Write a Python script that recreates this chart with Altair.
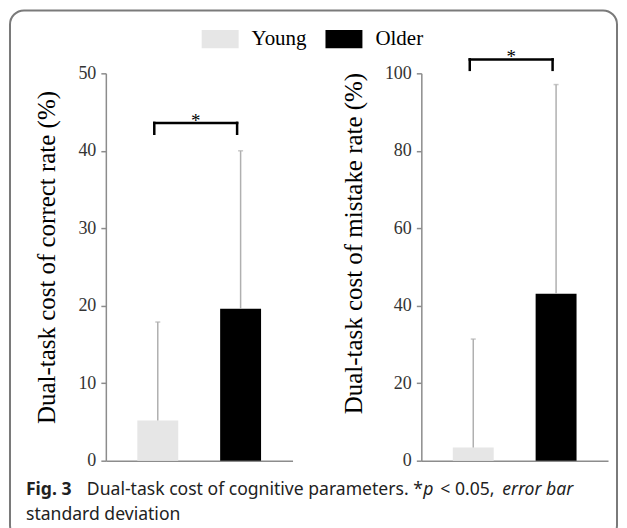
import altair as alt
import pandas as pd

groups = ["Young", "Older"]
bar_colors = ["#e6e6e6", "#000000"]

correct_mean = [5.2, 19.6]
correct_sd = [12.7, 20.4]
mistake_mean = [3.4, 43.1]
mistake_sd = [28.0, 54.0]

correct_ticks = [0, 10, 20, 30, 40, 50]
mistake_ticks = [0, 20, 40, 60, 80, 100]

correct_bracket = [42.2, 43.6]   # [end of legs, top line]
mistake_bracket = [100.9, 103.6]
sig_label = "*"

y_titles = ["Dual-task cost of correct rate (%)", "Dual-task cost of mistake rate (%)"]

caption_fig = "Fig. 3"
caption_main = "Dual-task cost of cognitive parameters. *"
caption_p = "p"
caption_pval = "< 0.05,"
caption_err = "error bar"
caption_line2 = "standard deviation"

SERIF = "Liberation Serif"
SANS = "Noto Sans"
GREY_ERR = "#b0b0b0"
AXIS_GREY = "#8c8c8c"


def panel(mean, sd, dom, ticks, title, bracket, first, title_y):
    df = pd.DataFrame({
        "group": groups,
        "mean": mean,
        "upper": [m + s for m, s in zip(mean, sd)],
    })
    xs = alt.Scale(domain=groups, paddingInner=0.506, paddingOuter=0.38)
    x = alt.X("group:N", scale=xs,
              axis=alt.Axis(title=None, labels=False, ticks=False,
                            domainColor=AXIS_GREY, domainWidth=1.5))
    ys = alt.Scale(domain=dom, nice=False, zero=True)
    yaxis = alt.Axis(values=ticks, title=title, grid=False,
                     labelFont=SERIF, labelFontSize=18,
                     labelColor="#333", titleFont=SERIF,
                     titleFontSize=25, titleFontWeight="normal",
                     titleColor="black", titlePadding=18, titleY=title_y)
    base = alt.Chart(df)
    legend = None
    if first:
        legend = alt.Legend(
            title=None, orient="none", direction="horizontal",
            legendX=96, legendY=-53,
            symbolType="M-1,-0.5H1V0.5H-1Z", symbolSize=1369,
            symbolStrokeWidth=0, symbolOpacity=1,
            labelFont=SERIF, labelFontSize=21, labelColor="black",
            labelOffset=13, columnPadding=18,
        )
    bars = base.mark_bar(opacity=1).encode(
        x=x,
        y=alt.Y("mean:Q", scale=ys, axis=yaxis),
        color=alt.Color("group:N",
                        scale=alt.Scale(domain=groups, range=bar_colors),
                        legend=legend),
    )
    err = base.mark_rule(color=GREY_ERR, strokeWidth=1.5).encode(
        x=alt.X("group:N", scale=xs),
        y=alt.Y("mean:Q", scale=ys, axis=yaxis), y2="upper:Q")
    cap = base.mark_tick(color=GREY_ERR, size=5, thickness=1.5).encode(
        x=alt.X("group:N", scale=xs), y=alt.Y("upper:Q", scale=ys, axis=yaxis))

    bdf = pd.DataFrame({"g1": [groups[0]], "g2": [groups[1]],
                        "top": [bracket[1]], "low": [bracket[0]],
                        "lab": [sig_label]})
    legs = pd.DataFrame({"g": groups, "top": [bracket[1]] * 2,
                         "low": [bracket[0]] * 2})
    top = alt.Chart(bdf).mark_rule(color="black", strokeWidth=2.5,
                                   xOffset=-3.5, x2Offset=-3.5,
                                   strokeCap="square").encode(
        x=alt.X("g1:N", scale=xs), x2="g2:N",
        y=alt.Y("top:Q", scale=ys, axis=yaxis))
    leg = alt.Chart(legs).mark_rule(color="black", strokeWidth=2.5,
                                    xOffset=-3.5, strokeCap="square").encode(
        x=alt.X("g:N", scale=xs), y=alt.Y("low:Q", scale=ys, axis=yaxis), y2="top:Q")
    star = alt.Chart(bdf).mark_text(font=SERIF, fontSize=19, baseline="alphabetic",
                                    dx=38, dy=4, color="black").encode(
        x=alt.X("g1:N", scale=xs), y=alt.Y("top:Q", scale=ys, axis=yaxis),
        text="lab:N")

    layers = [bars, err, cap, top, leg, star]
    if first:
        frame = alt.Chart(pd.DataFrame({"k": [0]})).mark_rect(
            fillOpacity=0, stroke="#7a7a7a", strokeWidth=2, cornerRadius=14
        ).encode(x=alt.value(-96), x2=alt.value(512),
                 y=alt.value(-63), y2=alt.value(467))

        def txt(s, xv, yv, **kw):
            return alt.Chart(pd.DataFrame({"t": [s]})).mark_text(
                font=SANS, fontSize=17.6, align="left", baseline="alphabetic",
                color="#222", **kw).encode(x=alt.value(xv), y=alt.value(yv), text="t:N")

        caps = [
            txt(caption_fig, -80, 422, fontWeight="bold"),
            txt(caption_main, -19, 422),
            txt(caption_p, 318, 422, fontStyle="italic"),
            txt(caption_pval, 335, 422),
            txt(caption_err, 397, 422, fontStyle="italic"),
            txt(caption_line2, -80, 447),
        ]
        layers = layers + [frame] + caps
    return alt.layer(*layers).properties(width=187, height=388)


left = panel(correct_mean, correct_sd, [0, 50], correct_ticks, y_titles[0],
             correct_bracket, True, 184)
right = panel(mistake_mean, mistake_sd, [0, 100], mistake_ticks, y_titles[1],
              mistake_bracket, False, 170)

chart = alt.hconcat(left, right, spacing=129, bounds="flush").resolve_scale(
    color="independent").resolve_legend(color="independent").properties(
    padding=1
).configure(font=SERIF).configure_view(stroke=None).configure_axis(
    labelFont=SERIF, labelFontSize=18, labelColor="#333",
    tickColor=AXIS_GREY, tickSize=5, tickWidth=1.5,
    domainColor=AXIS_GREY, domainWidth=1.5,
    titleFont=SERIF, titleFontSize=25, titleFontWeight="normal",
    titleColor="black", titlePadding=18, labelPadding=5,
)

chart.save("out.html", embed_options={"renderer": "svg", "actions": False})
